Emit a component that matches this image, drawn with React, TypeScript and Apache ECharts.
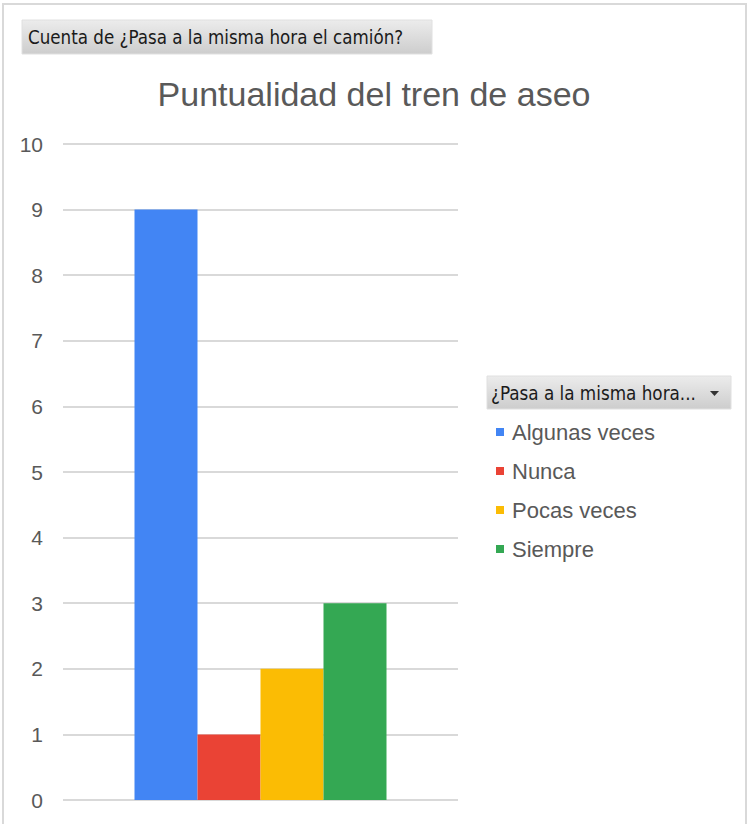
import React, { useEffect, useRef } from "react";
import * as echarts from "echarts";

const categories = ["Total"];
const seriesNames = ["Algunas veces", "Nunca", "Pocas veces", "Siempre"];
const seriesValues = [[9], [1], [2], [3]];
const seriesColors = ["#4285F4", "#EA4335", "#FBBC04", "#34A853"];
const yTicks = { min: 0, max: 10, interval: 1 };

const titleText = "Puntualidad del tren de aseo";
const fieldButtonText = "Cuenta de ¿Pasa a la misma hora el camión?";
const legendButtonText = "¿Pasa a la misma hora...";

export default function App() {
  const ref = useRef<HTMLDivElement>(null);
  useEffect(() => {
    if (!ref.current) return;
    const chart = echarts.init(ref.current, null, { renderer: "svg" });
    const btnGrad = new echarts.graphic.LinearGradient(0, 0, 0, 1, [
      { offset: 0, color: "#ececec" },
      { offset: 1, color: "#cdcdcd" },
    ]);
    const btnGrad2 = new echarts.graphic.LinearGradient(0, 0, 0, 1, [
      { offset: 0, color: "#ececec" },
      { offset: 1, color: "#cdcdcd" },
    ]);
    const btnFont = "DejaVu Sans Condensed, Liberation Sans Narrow, Liberation Sans";
    chart.setOption({
      animation: false,
      backgroundColor: "#ffffff",
      title: {
        text: titleText,
        left: "center",
        top: 72,
        textStyle: {
          fontFamily: "Liberation Sans",
          fontSize: 34,
          fontWeight: "normal",
          color: "#595959",
        },
      },
      grid: { left: 63, right: 290, top: 144, bottom: 24 },
      xAxis: {
        type: "category",
        data: categories,
        axisLine: { show: false },
        axisTick: { show: false },
        axisLabel: { show: false },
      },
      yAxis: {
        type: "value",
        min: yTicks.min,
        max: yTicks.max,
        interval: yTicks.interval,
        axisLine: { show: false },
        axisTick: { show: false },
        axisLabel: {
          margin: 20,
          fontFamily: "Liberation Sans",
          fontSize: 21,
          color: "#595959",
        },
        splitLine: { lineStyle: { color: "#d9d9d9", width: 2 } },
      },
      legend: {
        orient: "vertical",
        left: 496,
        top: 421,
        padding: 0,
        itemWidth: 8,
        itemHeight: 8,
        itemGap: 17,
        icon: "rect",
        data: seriesNames,
        textStyle: {
          fontFamily: "Liberation Sans",
          fontSize: 22,
          lineHeight: 22,
          color: "#595959",
          padding: [0, 0, 0, 3],
        },
      },
      series: seriesNames.map((name, i) => ({
        name,
        type: "bar",
        data: seriesValues[i],
        barWidth: 63,
        barGap: "0%",
        itemStyle: { color: seriesColors[i] },
      })),
      graphic: [
        {
          type: "rect",
          shape: { x: 3, y: 4, width: 743, height: 830 },
          style: { fill: "none", stroke: "#d9d9d9", lineWidth: 2 },
          silent: true,
        },
        {
          type: "rect",
          shape: { x: 22, y: 20, width: 410, height: 34 },
          style: { fill: btnGrad, stroke: "#e0e0e0", lineWidth: 1 },
        },
        {
          type: "text",
          x: 28,
          y: 37,
          style: {
            text: fieldButtonText,
            fontFamily: btnFont,
            fontSize: 18.6,
            fill: "#1a1a1a",
            verticalAlign: "middle",
          },
        },
        {
          type: "rect",
          shape: { x: 487, y: 376, width: 244, height: 33 },
          style: { fill: btnGrad2, stroke: "#e0e0e0", lineWidth: 1 },
        },
        {
          type: "text",
          x: 491,
          y: 393,
          style: {
            text: legendButtonText,
            fontFamily: btnFont,
            fontSize: 18.7,
            fill: "#1a1a1a",
            verticalAlign: "middle",
          },
        },
        {
          type: "polygon",
          shape: { points: [[710, 391], [719, 391], [714.5, 396]] },
          style: { fill: "#333333" },
        },
      ],
    });
    return () => chart.dispose();
  }, []);
  return (
    <div
      ref={ref}
      style={{ position: "absolute", left: 0, top: 0, width: 748, height: 824 }}
    />
  );
}
